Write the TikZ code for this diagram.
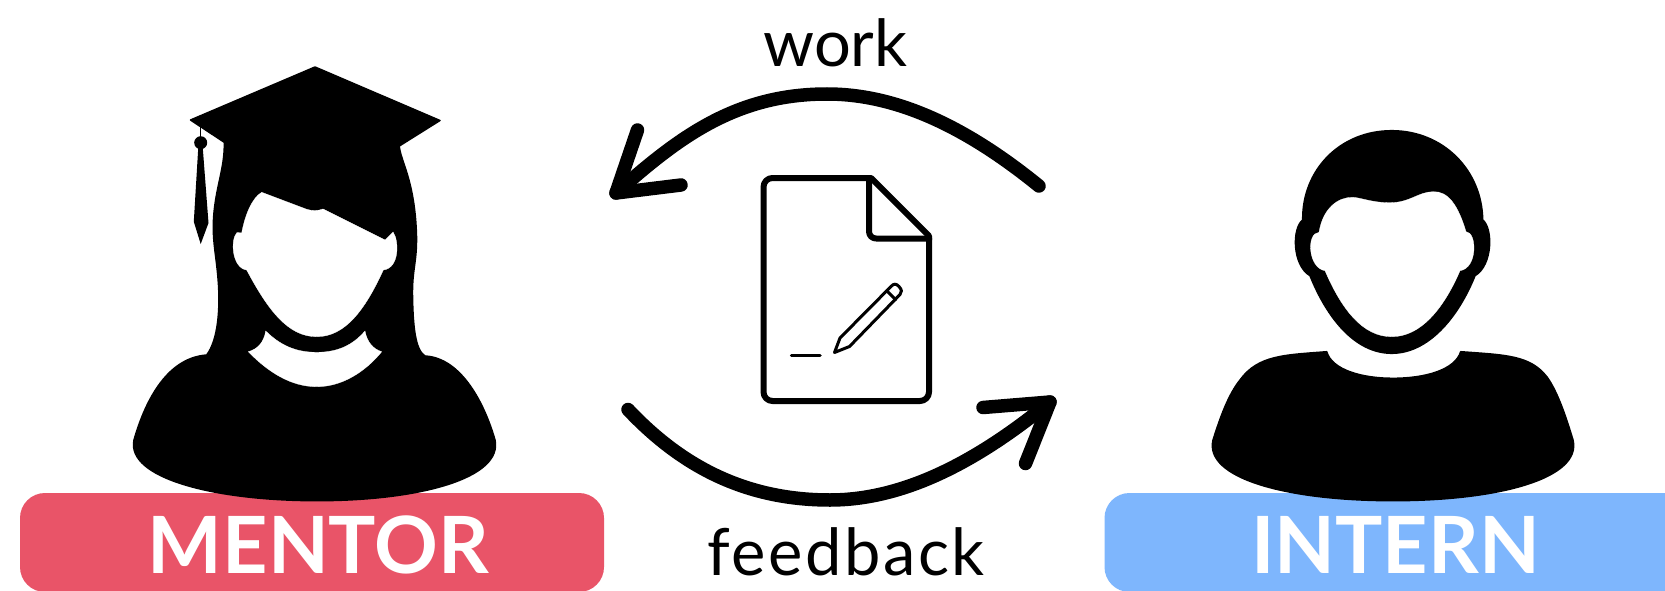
\documentclass[tikz,border=0pt]{standalone}
\usepackage{fontspec}
\setmainfont{Lato}
\newfontfamily\boldfont{Lato Bold}
\definecolor{mentorred}{HTML}{E95468}
\definecolor{internblue}{HTML}{7EB6FD}
\tikzset{
  badge/.style={rounded corners=25pt},
  badgetext/.style={text=white,inner sep=0pt,anchor=base,font=\boldfont\fontsize{79}{79}\selectfont},
  caption/.style={text=black,inner sep=0pt,anchor=base,font=\fontsize{65}{65}\selectfont},
  silhouette/.style={fill=black,draw=black,line width=1.5pt,line join=round},
  cutout/.style={fill=white,draw=white,line width=0.3pt},
  flowarrow/.style={draw=black,line width=13.5pt,line cap=round,line join=round},
  docline/.style={draw=black,line width=6pt,line cap=round,line join=round},
  penline/.style={draw=black,line width=3pt,line cap=round,line join=round}
}
\begin{document}
\begin{tikzpicture}[x=1pt,y=-1pt]
\path[use as bounding box,fill=white] (0,0) rectangle (1665,591);
% badges
\fill[mentorred,badge] (20,493) rectangle (604,592);
\fill[internblue,badge] (1104.5,493) rectangle (1720,592);
% mentor
\path[silhouette]
  (315,67) -- (440,120.5) -- (399.3,146)
  .. controls (400,160) and (415,180) .. (416.5,236)
  .. controls (417,262) and (412,270) .. (412.5,296)
  .. controls (413,325) and (415,350) .. (425,356)
  .. controls (462,358) and (485,405) .. (495,440)
  .. controls (503,478) and (420,500.7) .. (317,500.7)
  .. controls (214,500.7) and (126,478) .. (134,440)
  .. controls (144,405) and (165,358) .. (206.7,355)
  .. controls (218,340) and (220,310) .. (218.5,285)
  .. controls (217,260) and (213,245) .. (213.3,225)
  .. controls (214,190) and (225,170) .. (224.3,142.3)
  -- (190.5,120) -- cycle;
\path[cutout]
  (261.7,192.3) -- (306.7,209.3)
  .. controls (312,211) and (318,211) .. (323,209)
  -- (385,240) -- (393,232)
  .. controls (399,240) and (400,268) .. (383.3,270)
  .. controls (365,310) and (345,336.7) .. (316.7,336.7)
  .. controls (288,336.7) and (268,310) .. (246.7,270)
  .. controls (232,268) and (230,240) .. (237,232.5)
  -- (241.7,233)
  .. controls (245,215) and (252,198) .. (261.7,192.3) -- cycle;
\path[cutout]
  (265.7,331)
  .. controls (280,345) and (295,352.3) .. (316.7,352.3)
  .. controls (338,352.3) and (353,345) .. (365,331)
  .. controls (367,342) and (373,349) .. (381.7,351.7)
  .. controls (365,372) and (342,386.7) .. (316.7,386.7)
  .. controls (291,386.7) and (268,372) .. (248.3,351.7)
  .. controls (258,349) and (264,342) .. (265.7,331) -- cycle;
% tassel
\draw[black,line width=1.5pt] (200.5,125) -- (200.5,140);
\fill[black] (200.7,142.7) circle (6.5pt);
\fill[black] (198.3,147) -- (193.8,221.7) -- (200.7,244) -- (208.5,223) -- (202.7,147) -- cycle;
% intern
\path[silhouette]
  (1326.7,351.7)
  .. controls (1332,370) and (1362,378.3) .. (1393,378.3)
  .. controls (1425,378.3) and (1455,370) .. (1460.7,351.7)
  .. controls (1505,355) and (1530,355) .. (1547,377)
  .. controls (1558,392) and (1567,420) .. (1573,440)
  .. controls (1582,478) and (1500,500.7) .. (1393,500.7)
  .. controls (1286,500.7) and (1204,478) .. (1213,440)
  .. controls (1220,418) and (1228,395) .. (1240,380)
  .. controls (1258,355) and (1285,355) .. (1326.7,351.7) -- cycle;
\path[silhouette]
  (1302.7,220)
  .. controls (1302,170) and (1340,130.7) .. (1391.7,130.7)
  .. controls (1443,130.7) and (1482,170) .. (1482.7,220)
  .. controls (1493,228) and (1493,265) .. (1475,275.7)
  .. controls (1458,318) and (1428,353.3) .. (1391.7,353.3)
  .. controls (1355,353.3) and (1327,318) .. (1310,275.7)
  .. controls (1292,265) and (1292,228) .. (1302.7,220) -- cycle;
\path[cutout]
  (1319,232.3)
  .. controls (1323,208) and (1338,197) .. (1353,197.3)
  .. controls (1362,198) and (1372,202.7) .. (1390,202.7)
  .. controls (1410,202.7) and (1418,192) .. (1433,191.7)
  .. controls (1448,191) and (1458,205) .. (1466,231.7)
  .. controls (1477,232) and (1478,268) .. (1460,270.7)
  .. controls (1443,310) and (1420,336.7) .. (1391.7,336.7)
  .. controls (1363,336.7) and (1342,310) .. (1325,270.7)
  .. controls (1308,268) and (1306,233) .. (1319,232.3) -- cycle;
% badge labels
\node[badgetext] (mentor) at (318.5,573) {MENTOR};
\node[badgetext] (intern) at (1395.5,573) {INTERN};
% captions
\node[caption] (work) at (835.5,67) {work};
\node[caption] (feedback) at (846,575) {\addfontfeature{LetterSpace=4}feedback};
% document
\draw[docline,rounded corners=9pt] (869,178) -- (763.5,178) -- (763.5,401) -- (929,401) -- (929,238);
\draw[docline] (869,178) -- (871,178) -- (929,236) -- (929,240);
\draw[docline,rounded corners=7pt] (869,178) -- (869,238.5) -- (928,238.5);
% pencil
\draw[penline] (834.5,352.5) -- (840,338) -- (891.5,286) .. controls (894,283.5) and (896,283.5) .. (899,286.5) .. controls (902,290) and (902,292) .. (900,294.5) -- (849.5,346.5) -- cycle;
\draw[penline] (887,291) -- (895.5,299.5);
\draw[docline,line width=3.5pt] (791.5,355.5) -- (820,355.5);
% arrows
\coordinate (workstart) at (1039,186);
\coordinate (workmid) at (827,94);
\coordinate (worktip) at (616,193);
\coordinate (workbarbA) at (637.5,130);
\coordinate (workbarbB) at (681,185);
\coordinate (fbstart) at (628,409.5);
\coordinate (fbmid) at (830,500);
\coordinate (fbtip) at (1050,402);
\coordinate (fbbarbA) at (983,407.5);
\coordinate (fbbarbB) at (1025.5,463.5);
\draw[flowarrow] (workstart) .. controls (970,130) and (900,94) .. (workmid) .. controls (735,94) and (678,138) .. (worktip);
\draw[flowarrow] (workbarbA) -- (worktip) -- (workbarbB);
\draw[flowarrow] (fbstart) .. controls (685,470) and (750,500) .. (fbmid) .. controls (910,500) and (985,455) .. (fbtip);
\draw[flowarrow] (fbbarbA) -- (fbtip) -- (fbbarbB);
\end{tikzpicture}
\end{document}
